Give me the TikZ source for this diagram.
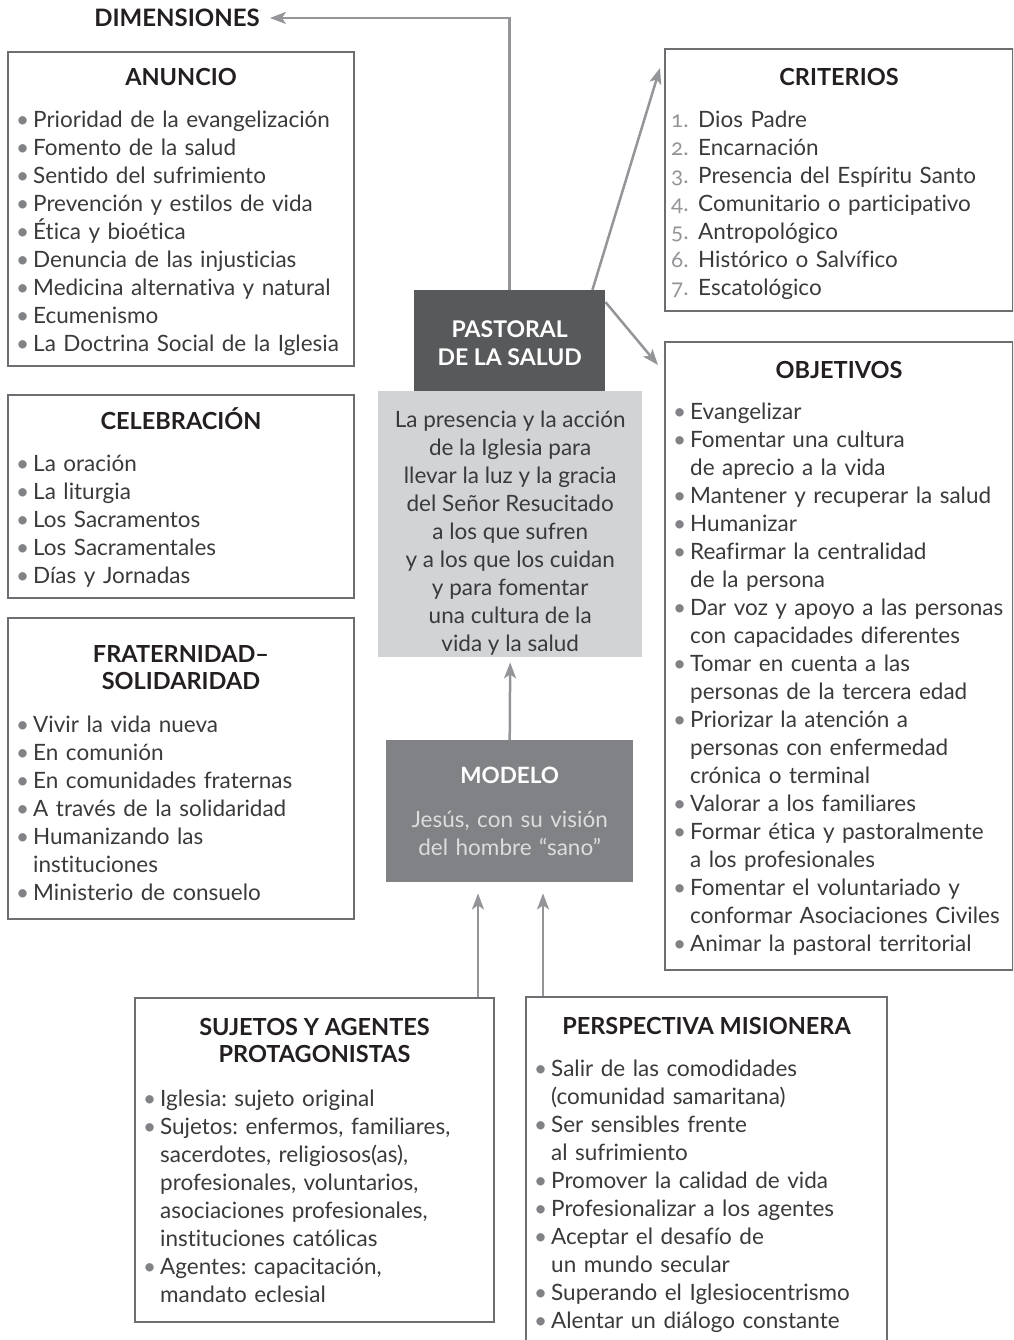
\documentclass[tikz,border=0pt]{standalone}
\usepackage{fontspec}
\setmainfont{Lato}[Ligatures=CommonOff]
\newfontfamily\oldnum[Numbers=OldStyle]{Lato}
\usetikzlibrary{arrows.meta,calc}
\definecolor{boxc}{HTML}{6D6E71}
\definecolor{txtc}{HTML}{3A3A3C}
\definecolor{titc}{HTML}{231F20}
\definecolor{bulc}{HTML}{808285}
\definecolor{numc}{HTML}{939598}
\definecolor{arrc}{HTML}{939598}
\definecolor{darkc}{HTML}{58595B}
\definecolor{lightc}{HTML}{D1D3D4}
\definecolor{midc}{HTML}{808285}
\definecolor{modtxt}{HTML}{DCDDDE}
\newcommand\itm{\par\hangindent=22pt\hangafter=1\noindent\makebox[22pt][l]{\hspace{5pt}\textcolor{bulc}{•}}}
\newcommand\nitm[1]{\par\hangindent=30pt\hangafter=1\noindent\makebox[30pt][l]{\hspace{3pt}\textcolor{numc}{\oldnum #1.}}}
\begin{document}
\begin{tikzpicture}[x=1pt,y=-1pt,
  pbox/.style={draw=boxc,line width=2pt,anchor=north west,inner sep=0pt},
  ptitle/.style={font=\fontsize{23.5}{27}\selectfont\bfseries,text=titc,align=center,inner sep=0pt,anchor=base},
  plist/.style={font=\fontsize{22.5}{28}\selectfont\frenchspacing,text=txtc,inner sep=0pt,anchor=base west},
  arr/.style={draw=arrc,line width=2.5pt,-{Stealth[length=16pt,width=12pt,inset=4pt]}},
  ]
\useasboundingbox (0,0) rectangle (1013,1340);
\clip (0,0) rectangle (1013,1340);

% ---------- ANUNCIO
\node[pbox,minimum width=346pt,minimum height=314pt] (anun) at (7,51) {};
\node[ptitle] (anunT) at ($(anun.north)+(0,34.5)$) {ANUNCIO};
\node[plist,text width=338pt] (anunL) at ($(anun.north west)+(4,49)$) {%
\itm Prioridad de la evangelización
\itm Fomento de la salud
\itm Sentido del sufrimiento
\itm Prevención y estilos de vida
\itm Ética y bioética
\itm Denuncia de las injusticias
\itm Medicina alternativa y natural
\itm Ecumenismo
\itm La Doctrina Social de la Iglesia\par};

% ---------- CELEBRACION
\node[pbox,minimum width=346pt,minimum height=203pt] (cele) at (7,394) {};
\node[ptitle] (celeT) at ($(cele.north)+(0,35.5)$) {CELEBRACIÓN};
\node[plist,text width=338pt] (celeL) at ($(cele.north west)+(4,49)$) {%
\itm La oración
\itm La liturgia
\itm Los Sacramentos
\itm Los Sacramentales
\itm Días y Jornadas\par};

% ---------- FRATERNIDAD
\node[pbox,minimum width=346pt,minimum height=301pt] (frat) at (7,617) {};
\node[ptitle] (fratT) at ($(frat.north)+(0,72.5)$) {FRATERNIDAD–\\SOLIDARIDAD};
\node[plist,text width=338pt] (fratL) at ($(frat.north west)+(4,87)$) {%
\itm Vivir la vida nueva
\itm En comunión
\itm En comunidades fraternas
\itm A través de la solidaridad
\itm Humanizando las\newline instituciones
\itm Ministerio de consuelo\par};

% ---------- CRITERIOS
\node[pbox,minimum width=348pt,minimum height=262pt] (crit) at (664,48) {};
\node[ptitle] (critT) at ($(crit.north)+(0,37.5)$) {CRITERIOS};
\node[plist,text width=340pt] (critL) at ($(crit.north west)+(4,52)$) {%
\nitm{1}Dios Padre
\nitm{2}Encarnación
\nitm{3}Presencia del Espíritu Santo
\nitm{4}Comunitario o participativo
\nitm{5}Antropológico
\nitm{6}Histórico o Salvífico
\nitm{7}Escatológico\par};

% ---------- OBJETIVOS
\node[pbox,minimum width=348pt,minimum height=628pt] (obj) at (664,341) {};
\node[ptitle] (objT) at ($(obj.north)+(0,37.5)$) {OBJETIVOS};
\node[plist,text width=340pt] (objL) at ($(obj.north west)+(4,50)$) {%
\itm Evangelizar
\itm Fomentar una cultura\newline de aprecio a la vida
\itm Mantener y recuperar la salud
\itm Humanizar
\itm Reafirmar la centralidad\newline de la persona
\itm Dar voz y apoyo a las personas\newline con capacidades diferentes
\itm Tomar en cuenta a las\newline personas de la tercera edad
\itm Priorizar la atención a\newline personas con enfermedad\newline crónica o terminal
\itm Valorar a los familiares
\itm Formar ética y pastoralmente\newline a los profesionales
\itm Fomentar el voluntariado y\newline conformar Asociaciones Civiles
\itm Animar la pastoral territorial\par};

% ---------- SUJETOS
\node[pbox,minimum width=359pt,minimum height=324pt] (suj) at (134,997) {};
\node[ptitle] (sujT) at ($(suj.north)+(0,65.5)$) {SUJETOS Y AGENTES\\PROTAGONISTAS};
\node[plist,text width=351pt] (sujL) at ($(suj.north west)+(4,81)$) {%
\itm Iglesia: sujeto original
\itm Sujetos: enfermos, familiares,\newline sacerdotes, religiosos(as),\newline profesionales, voluntarios,\newline asociaciones profesionales,\newline instituciones católicas
\itm Agentes: capacitación,\newline mandato eclesial\par};

% ---------- PERSPECTIVA
\node[pbox,minimum width=361pt,minimum height=370pt] (persp) at (525,996) {};
\node[ptitle] (perspT) at ($(persp.north)+(0,38.5)$) {PERSPECTIVA MISIONERA};
\node[plist,text width=353pt] (perspL) at ($(persp.north west)+(4,52)$) {%
\itm Salir de las comodidades\newline (comunidad samaritana)
\itm Ser sensibles frente\newline al sufrimiento
\itm Promover la calidad de vida
\itm Profesionalizar a los agentes
\itm Aceptar el desafío de\newline un mundo secular
\itm Superando el Iglesiocentrismo
\itm Alentar un diálogo constante\par};

% ---------- center
\node[anchor=north west,fill=darkc,minimum width=191pt,minimum height=101pt,inner sep=0pt] (past) at (414,290) {};
\node[text=white,font=\fontsize{23}{28}\selectfont\bfseries,align=center,inner sep=0pt] (pasttxt)
  at ($(past.center)+(0,2)$) {PASTORAL\\DE LA SALUD};
\node[anchor=north west,fill=lightc,minimum width=264pt,minimum height=266pt,inner sep=0pt] (light) at (378,391) {};
\node[text=txtc,font=\fontsize{22.5}{28}\selectfont,align=center,inner sep=0pt] (lighttxt)
  at ($(light.center)+(0,9)$)
  {La presencia y la acción\\de la Iglesia para\\llevar la luz y la gracia\\del Señor Resucitado\\a los que sufren\\y a los que los cuidan\\y para fomentar\\una cultura de la\\vida y la salud};
\node[anchor=north west,fill=midc,minimum width=247pt,minimum height=142pt,inner sep=0pt,
  font=\fontsize{22.5}{28}\selectfont,align=center,text width=247pt] (mod) at (386,740)
  {{\bfseries\color{white}MODELO\par}\vspace{16pt}{\color{modtxt}Jesús, con su visión\\del hombre “sano”}};

\node[font=\fontsize{24}{28}\selectfont\bfseries,text=titc,inner sep=2pt] (dim) at (177,18) {DIMENSIONES};

% ---------- connectors
\draw[arr,shorten >=8pt] (past.north) |- (dim.east);
\coordinate (c1) at ([xshift=-13pt]past.north east);
\coordinate (c1e) at ([xshift=-4pt,yshift=-20pt]crit.north west);
\draw[arr] (c1) -- (c1e);
\coordinate (c2) at ([yshift=-12pt]past.north east);
\coordinate (c2e) at ([xshift=-6pt,yshift=-24pt]obj.north west);
\draw[arr] (c2) -- (c2e);
\draw[arr,shorten >=5pt] (mod.north) -- (light.south);
\coordinate (s1) at ([xshift=-17pt]suj.north east);
\draw[arr,shorten >=11pt] (s1) -- (s1 |- mod.south);
\coordinate (p1) at ([xshift=18pt]persp.north west);
\draw[arr,shorten >=11pt] (p1) -- (p1 |- mod.south);
\end{tikzpicture}
\end{document}
